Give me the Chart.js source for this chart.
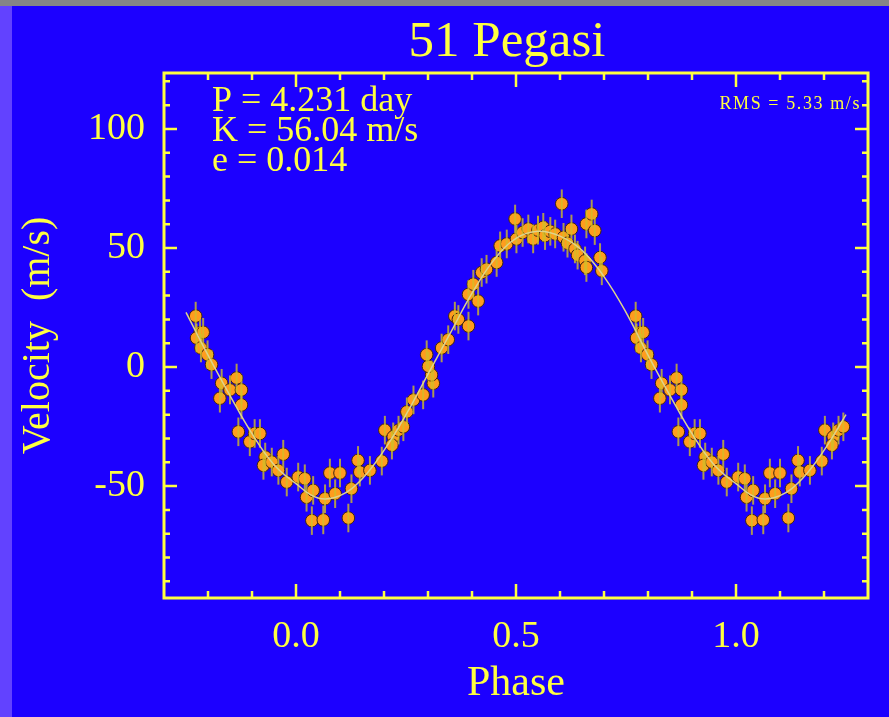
<!DOCTYPE html>
<html>
<head>
<meta charset="utf-8">
<script src="https://cdn.jsdelivr.net/npm/chart.js@4.4.1/dist/chart.umd.min.js"></script>
<style>
  html, body { margin: 0; padding: 0; background: #1c00ff; overflow: hidden; }
  canvas { display: block; }
</style>
</head>
<body>
<canvas id="rv-chart" width="889" height="717"></canvas>
<script>
// --- 51 Pegasi 視線速度 (位相折り畳み) ---

// 観測点 (位相 0..1) と速度 m/s
const obsPhase = [
  0.772, 0.782, 0.774, 0.789, 0.784, 0.799, 0.808, 0.831, 0.827, 0.850,
  0.865, 0.876, 0.876, 0.869, 0.895, 0.906, 0.918, 0.930, 0.926, 0.945,
  0.971, 0.960, 0.979,
  0.005, 0.020, 0.024, 0.039, 0.036, 0.062, 0.066, 0.077, 0.100, 0.089,
  0.119, 0.126, 0.141, 0.145, 0.168, 0.195, 0.202, 0.221, 0.218, 0.233,
  0.244, 0.252, 0.267,
  0.289, 0.312, 0.308, 0.301, 0.297, 0.331, 0.346, 0.361, 0.369, 0.392,
  0.392, 0.403, 0.414, 0.422, 0.433, 0.456, 0.464, 0.479, 0.498, 0.501,
  0.515, 0.528, 0.539, 0.550, 0.562, 0.566, 0.578, 0.589, 0.604, 0.608,
  0.617, 0.626, 0.634, 0.640, 0.657, 0.660, 0.672, 0.679, 0.660, 0.691,
  0.695
];
const obsVel = [
  21.4, 14.4, 12.2, 14.6, 8.0, 5.2, 1.0, -6.8, -13.1, -9.6,
  -4.6, -9.6, -15.9, -27.2, -31.4, -27.9, -27.9, -37.8, -41.3, -39.9,
  -36.6, -43.4, -48.3,
  -46.2, -46.9, -54.7, -51.8, -64.5, -64.2, -55.3, -44.5, -44.5, -53.2,
  -63.4, -51.1, -39.2, -44.1, -43.4, -39.5, -26.5, -29.3, -32.8, -26.5,
  -25.1, -18.8, -13.8,
  -11.7, -6.8, -3.3, 0.3, 5.2, 8.0, 11.5, 21.4, 20.0, 17.2,
  30.5, 34.8, 27.7, 39.7, 41.1, 43.9, 50.9, 51.7, 62.2, 53.8,
  56.5, 58.0, 53.8, 57.5, 58.7, 55.2, 57.0, 55.9, 68.6, 54.5,
  52.0, 58.0, 49.6, 47.0, 44.6, 60.1, 64.3, 57.3, 41.8, 46.0,
  40.4
];
const velErr = 6;   // m/s

// 軌道フィット曲線
const fitPhase = [
  -0.25, -0.20, -0.15, -0.10, -0.05, 0.00, 0.05, 0.10, 0.15, 0.20,
  0.25, 0.30, 0.35, 0.40, 0.45, 0.50, 0.55, 0.60, 0.65, 0.70,
  0.75, 0.80, 0.85, 0.90, 0.95, 1.00, 1.05, 1.10, 1.15, 1.20, 1.25
];
const fitVel = [
  23, 5, -12, -28, -41, -49, -55, -54, -47, -35,
  -20, -3, 14, 31, 45, 54, 57, 55, 49, 38,
  23, 5, -12, -28, -41, -49, -55, -54, -47, -35, -20
];

// 目盛り
const xMajorTicks = [0, 0.5, 1.0];
const xMinorTicks = [-0.2, -0.1, 0.1, 0.2, 0.3, 0.4, 0.6, 0.7, 0.8, 0.9, 1.1, 1.2];
const yMajorTicks = [-50, 0, 50, 100];
const yMinorTicks = [-90, -80, -70, -60, -40, -30, -20, -10, 10, 20, 30, 40, 60, 70, 80, 90, 110, 120];

const titleText = '51 Pegasi';
const fitLines  = ['P = 4.231 day', 'K = 56.04 m/s', 'e = 0.014'];
const rmsText   = 'RMS = 5.33 m/s';

const YELLOW = '#ffff40';
const FONT   = '"Liberation Serif", "Times New Roman", serif';

// 位相の前後に折り返して描く
const points = [];
obsPhase.forEach((p, i) => {
    points.push({ x: p, y: obsVel[i] });
    if (p >= 0.75) points.push({ x: p - 1, y: obsVel[i] });
    if (p < 0.25)  points.push({ x: p + 1, y: obsVel[i] });
});
const fitPoints = fitPhase.map((p, i) => ({ x: p, y: fitVel[i] }));

const backdrop = {
    id: 'backdrop',
    beforeDraw(chart) {
        const c = chart.ctx;
        c.save();
        c.fillStyle = '#1c00ff';
        c.fillRect(0, 0, chart.width, chart.height);
        c.fillStyle = '#6242ff';
        c.fillRect(0, 0, 12, chart.height);
        c.fillStyle = '#858585';
        c.fillRect(0, 0, chart.width, 6);
        c.restore();
    }
};

const errorBars = {
    id: 'errorBars',
    afterDatasetDraw(chart, args) {
        if (args.index !== 1) return;
        const c = chart.ctx, ys = chart.scales.y;
        c.save();
        c.strokeStyle = 'rgba(210,190,40,0.8)';
        c.lineWidth = 2;
        args.meta.data.forEach((el, i) => {
            const v = points[i].y;
            c.beginPath();
            c.moveTo(el.x, ys.getPixelForValue(v + velErr));
            c.lineTo(el.x, ys.getPixelForValue(v - velErr));
            c.stroke();
        });
        c.restore();
    }
};

const frameAndTicks = {
    id: 'frameAndTicks',
    afterDraw(chart) {
        const c = chart.ctx, a = chart.chartArea;
        const xs = chart.scales.x, ys = chart.scales.y;
        c.save();
        c.strokeStyle = YELLOW;
        c.lineWidth = 3;
        c.strokeRect(a.left, a.top, a.right - a.left, a.bottom - a.top);
        c.lineWidth = 2.5;
        const xTick = (v, len) => {
            const px = xs.getPixelForValue(v);
            c.beginPath();
            c.moveTo(px, a.bottom); c.lineTo(px, a.bottom - len);
            c.moveTo(px, a.top);    c.lineTo(px, a.top + len);
            c.stroke();
        };
        const yTick = (v, len) => {
            const py = ys.getPixelForValue(v);
            c.beginPath();
            c.moveTo(a.left, py);  c.lineTo(a.left + len, py);
            c.moveTo(a.right, py); c.lineTo(a.right - len, py);
            c.stroke();
        };
        xMajorTicks.forEach(v => xTick(v, 14));
        xMinorTicks.forEach(v => xTick(v, 7));
        yMajorTicks.forEach(v => yTick(v, 13));
        yMinorTicks.forEach(v => yTick(v, 6));

        // タイトル
        c.fillStyle = YELLOW;
        c.textAlign = 'center';
        c.textBaseline = 'alphabetic';
        c.font = `51px ${FONT}`;
        c.fillText(titleText, 507, 56);

        // フィットパラメータ
        c.textAlign = 'left';
        c.font = `36px ${FONT}`;
        fitLines.forEach((t, i) => c.fillText(t, a.left + 48, a.top + 38 + i * 30));
        c.font = `18px ${FONT}`;
        c.textAlign = 'right';
        c.letterSpacing = '1.6px';
        c.fillText(rmsText, a.right - 7, a.top + 36);
        c.restore();
    }
};

Chart.defaults.font.family = FONT;
Chart.defaults.color = YELLOW;

new Chart(document.getElementById('rv-chart'), {
    type: 'scatter',
    data: {
        datasets: [
            {
                type: 'line',
                data: fitPoints,
                borderColor: '#ddd48c',
                borderWidth: 1.5,
                pointRadius: 0,
                tension: 0.4,
                fill: false,
                order: 0
            },
            {
                data: points,
                pointRadius: 6.3,
                backgroundColor: '#ff9c1e',
                borderColor: '#3c2410',
                borderWidth: 1,
                order: 1
            }
        ]
    },
    options: {
        responsive: false,
        animation: false,
        events: [],
        layout: { padding: { top: 73, right: 21, left: 0, bottom: 0 } },
        plugins: {
            legend: { display: false },
            tooltip: { enabled: false },
            title: { display: false }
        },
        scales: {
            x: {
                type: 'linear',
                min: -0.3, max: 1.3,
                grid: { display: false, drawTicks: false },
                border: { display: false },
                afterFit: s => { s.height = 119; },
                afterBuildTicks: s => { s.ticks = xMajorTicks.map(v => ({ value: v })); },
                ticks: {
                    padding: 16,
                    font: { size: 38 },
                    color: YELLOW,
                    maxRotation: 0,
                    callback: v => v.toFixed(1)
                },
                title: {
                    display: true,
                    text: 'Phase',
                    color: YELLOW,
                    font: { size: 42 },
                    padding: { top: 0, bottom: 8 }
                }
            },
            y: {
                type: 'linear',
                min: -97, max: 123.5,
                grid: { display: false, drawTicks: false },
                border: { display: false },
                afterFit: s => { s.width = 164; },
                afterBuildTicks: s => { s.ticks = yMajorTicks.map(v => ({ value: v })); },
                ticks: {
                    padding: 19,
                    font: { size: 38 },
                    color: YELLOW,
                    callback: v => v.toFixed(0)
                },
                title: {
                    display: true,
                    text: 'Velocity  (m/s)',
                    color: YELLOW,
                    font: { size: 40 },
                    padding: { top: 14, bottom: 0 }
                }
            }
        }
    },
    plugins: [backdrop, errorBars, frameAndTicks]
});
</script>
</body>
</html>
